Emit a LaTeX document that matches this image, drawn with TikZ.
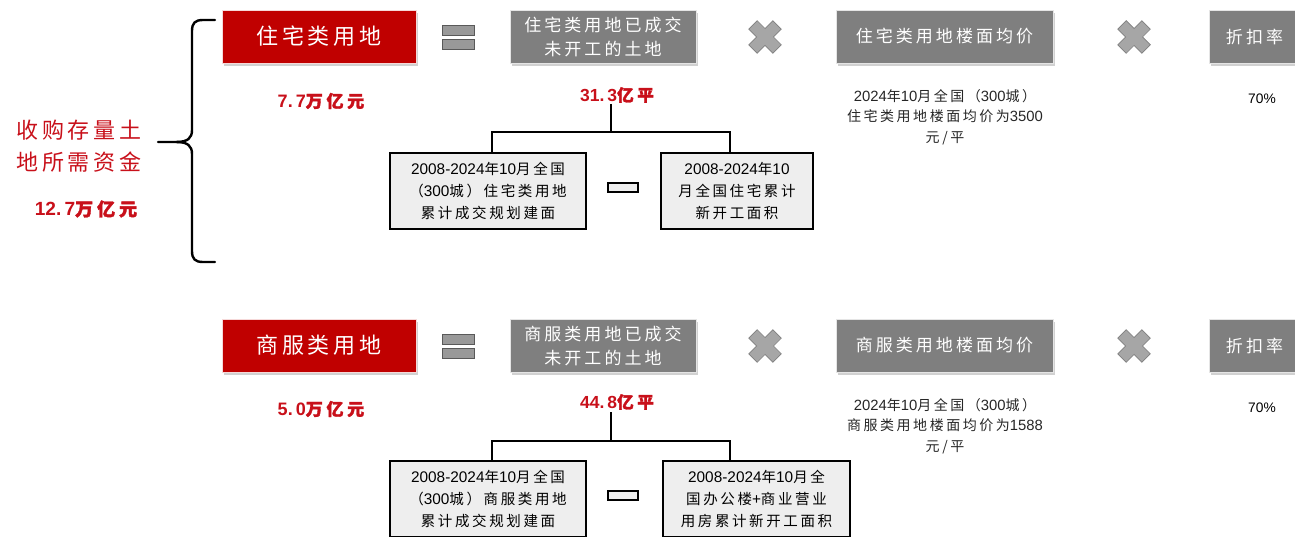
\documentclass[tikz,border=0pt]{standalone}
\usepackage{fontspec}
\setmainfont{Liberation Sans}[Scale=1.06]
\newfontfamily\widef[LetterSpace=18]{Noto Sans CJK SC}
\newfontfamily\boldcjk[LetterSpace=22,FakeBold=2]{Noto Sans CJK SC}
\newcommand\W[1]{{\widef #1}}
\newcommand\B[1]{{\boldcjk #1}}
\usetikzlibrary{shadows}
\definecolor{cred}{HTML}{C00000}
\definecolor{tred}{HTML}{C8101A}
\definecolor{cgray}{HTML}{7F7F7F}
\definecolor{clight}{HTML}{EEEEEE}
\definecolor{xgray}{HTML}{A6A6A6}
\begin{document}
\begin{tikzpicture}[x=1pt,y=-1pt,
 shad/.style={drop shadow={shadow xshift=2pt,shadow yshift=-3pt,opacity=0.3,fill=black!60}},
 redbox/.style={shad,fill=cred,draw=white!85!cred,line width=0.8pt,text=white,
   font=\widef\fontsize{22}{26}\selectfont,minimum width=194pt,minimum height=53pt,inner sep=0pt},
 graybox/.style={shad,fill=cgray,draw=white!80!cgray,line width=0.8pt,text=white,
   font=\widef\fontsize{17}{24}\selectfont,minimum height=53pt,inner sep=0pt,align=center},
 lbox/.style={fill=clight,draw=black,line width=1.8pt,font=\fontsize{14.5}{22}\selectfont,
   minimum height=76pt,inner sep=0pt,align=center},
 rednum/.style={text=tred,font=\bfseries\fontsize{17}{20}\selectfont,inner sep=0pt},
 note/.style={text=black!85,font=\fontsize{14}{20.5}\selectfont,align=center,inner sep=0pt},
 tree/.style={draw=black,line width=1.8pt},
 eqbar/.style={fill=cgray!80,draw=cgray!70!black,line width=0.7pt},
 crossmark/.pic={\filldraw[fill=xgray,draw=cgray,line width=0.7pt,rotate=45]
   (6,6)--(6,17)--(-6,17)--(-6,6)--(-17,6)--(-17,-6)--(-6,-6)--(-6,-17)--(6,-17)--(6,-6)--(17,-6)--(17,6)--cycle;}
]
\useasboundingbox (0,0) rectangle (1295,537);
\clip (0,0) rectangle (1295,537);

% brace
\draw[line width=2.4pt,line cap=round] (215,20) -- (203,20) .. controls (195,20) and (192,23) .. (192,31) -- (192,130)
  .. controls (192,138) and (188,142) .. (176,142) -- (158,142);
\draw[line width=2.4pt,line cap=round] (215,262) -- (203,262) .. controls (195,262) and (192,259) .. (192,251) -- (192,154)
  .. controls (192,146) and (188,142) .. (176,142);

% left text
\node[text=tred,font=\widef\fontsize{22}{32}\selectfont,align=center,inner sep=0pt] (lt) at (79,146) {收购存量土\\地所需资金};
\node[rednum,font=\bfseries\fontsize{18}{20}\selectfont] (lv) at (86,209) {12.\,7\B{万亿元}};

% ===== row 1 =====
\node[redbox] (red1) at (319,36.5) {住宅类用地};
\draw[eqbar] (442,25) rectangle (474,35);
\draw[eqbar] (442,39) rectangle (474,49);
\node[graybox,minimum width=186pt] (g1) at (603,36.5) {住宅类用地已成交\\未开工的土地};
\pic at (765,37) {crossmark};
\node[graybox,minimum width=217pt] (p1) at (944.5,36.5) {住宅类用地楼面均价};
\pic at (1134,37) {crossmark};
\node[graybox,minimum width=91pt] (d1) at (1254.5,36.5) {折扣率};

\node[rednum] (v1) at (321,101) {7.\,7\B{万亿元}};
\node[rednum,font=\bfseries\fontsize{16.5}{20}\selectfont] (n1) at (617,95) {31.\,3\B{亿平}};
\node[note] (t1) at (945,117) {2024\W{年}10\W{月全国（}300\W{城）}\\\W{住宅类用地楼面均价为}3500\\\W{元/平}};
\node[font=\fontsize{13}{16}\selectfont,inner sep=0pt] (r1) at (1262,99) {70\%};

\node[lbox,minimum width=196pt] (lb1) at (488,191) {2008-2024\W{年}10\W{月全国}\\\W{（}300\W{城）住宅类用地}\\\W{累计成交规划建面}};
\draw[fill=clight,draw=black,line width=1.5pt] (608,183) rectangle (638,192);
\node[lbox,minimum width=152pt] (rb1) at (737,191) {2008-2024\W{年}10\\\W{月全国住宅累计}\\\W{新开工面积}};

\coordinate (j1) at (611,132);
\draw[tree] (611,104) -- (j1);
\draw[tree] ([xshift=4pt]lb1.north) |- (j1) -| ([xshift=-7pt]rb1.north);

% ===== row 2 =====
\node[redbox] (red2) at (319,345.5) {商服类用地};
\draw[eqbar] (442,334) rectangle (474,344);
\draw[eqbar] (442,348) rectangle (474,358);
\node[graybox,minimum width=186pt] (g2) at (603,345.5) {商服类用地已成交\\未开工的土地};
\pic at (765,346) {crossmark};
\node[graybox,minimum width=217pt] (p2) at (944.5,345.5) {商服类用地楼面均价};
\pic at (1134,346) {crossmark};
\node[graybox,minimum width=91pt] (d2) at (1254.5,345.5) {折扣率};

\node[rednum] (v2) at (321,409) {5.\,0\B{万亿元}};
\node[rednum,font=\bfseries\fontsize{16.5}{20}\selectfont] (n2) at (617,402) {44.\,8\B{亿平}};
\node[note] (t2) at (945,426) {2024\W{年}10\W{月全国（}300\W{城）}\\\W{商服类用地楼面均价为}1588\\\W{元/平}};
\node[font=\fontsize{13}{16}\selectfont,inner sep=0pt] (r2) at (1262,408) {70\%};

\node[lbox,minimum width=196pt] (lb2) at (488,499) {2008-2024\W{年}10\W{月全国}\\\W{（}300\W{城）商服类用地}\\\W{累计成交规划建面}};
\draw[fill=clight,draw=black,line width=1.5pt] (608,491) rectangle (638,500);
\node[lbox,minimum width=187pt] (rb2) at (756.5,499) {2008-2024\W{年}10\W{月全}\\\W{国办公楼}+\W{商业营业}\\\W{用房累计新开工面积}};

\coordinate (j2) at (611,441);
\draw[tree] (611,412) -- (j2);
\draw[tree] ([xshift=4pt]lb2.north) |- (j2) -| ([xshift=-26.5pt]rb2.north);
\end{tikzpicture}
\end{document}
